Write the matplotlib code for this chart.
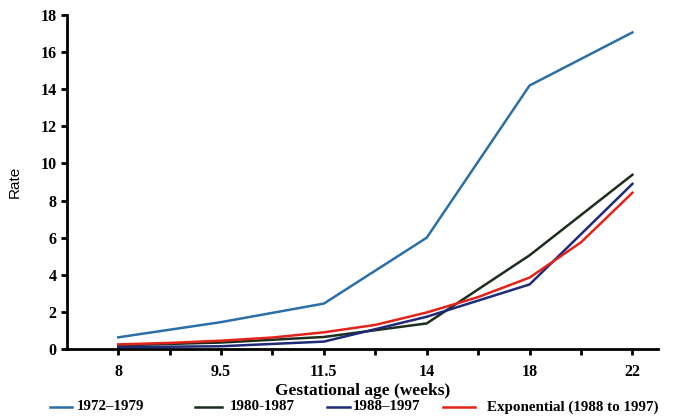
import matplotlib.pyplot as plt
from matplotlib.lines import Line2D
import numpy as np

# gestational age categories (evenly spaced on the axis)
ages = ['8', '9.5', '11.5', '14', '18', '22']
rate_1972_1979 = [0.63, 1.45, 2.45, 6.0, 14.2, 17.06]
rate_1980_1987 = [0.2, 0.35, 0.65, 1.38, 5.05, 9.39]
rate_1988_1997 = [0.1, 0.15, 0.4, 1.74, 3.48, 8.9]

# exponential fit read at the labelled ages and halfway between them
exp_pos = [0, 0.5, 1, 1.5, 2, 2.5, 3, 3.5, 4, 4.5, 5]
exp_rate = [0.25, 0.33, 0.45, 0.62, 0.9, 1.3, 1.97, 2.8, 3.85, 5.75, 8.42]

serif = 'Liberation Serif'
W, H = 675, 416

fig = plt.figure(figsize=(6.75, 4.16), dpi=100)
ax = fig.add_axes([0.099, 0.161, 0.876, 0.803])

x = np.arange(len(ages))
l1, = ax.plot(x, rate_1972_1979, color='#2b6fa8', lw=1.8, label='1972\u20131979')
l2, = ax.plot(x, rate_1980_1987, color='#1c2e1e', lw=1.8, label='1980-1987')
l3, = ax.plot(x, rate_1988_1997, color='#1f2a78', lw=1.8, label='1988\u20131997')
l4, = ax.plot(exp_pos, exp_rate, color='#e2231a', lw=1.8, label='Exponential (1988 to 1997)')

ax.set_xlim(-0.5, 5.25)
ax.set_ylim(0, 18)
ax.set_yticks(np.arange(0, 19, 2))
ax.set_xticks(x)
ax.set_xticklabels(ages)
ax.set_xticks(np.arange(0.5, 5, 1), minor=True)

for s in ['top', 'right']:
    ax.spines[s].set_visible(False)
for s in ['left', 'bottom']:
    ax.spines[s].set_linewidth(2)

ax.tick_params(which='both', direction='out', length=4, width=2)
for lab in ax.get_xticklabels() + ax.get_yticklabels():
    lab.set_fontfamily(serif)
    lab.set_fontweight('bold')
    lab.set_fontsize(11.5)
ax.tick_params(axis='x', pad=7)

ax.set_xlabel('Gestational age (weeks)', fontfamily=serif, fontweight='bold',
              fontsize=12.5, labelpad=2)
ax.set_ylabel('Rate', fontfamily='Liberation Sans', fontsize=11)
ax.yaxis.set_label_coords(-0.076, 0.5)

# legend row along the bottom, laid out like the original
entries = [(l1, 50, 72, 77), (l2, 195, 222, 230), (l3, 327, 350, 353), (l4, 443, 475, 487)]
ly = 1 - 407 / H
for line, x0, x1, tx in entries:
    fig.add_artist(Line2D([x0 / W, x1 / W], [ly, ly], transform=fig.transFigure,
                          color=line.get_color(), lw=1.8))
    fig.text(tx / W, ly, line.get_label(), fontfamily=serif, fontweight='bold',
             fontsize=10.8, va='center', ha='left')

plt.savefig('out.png')
